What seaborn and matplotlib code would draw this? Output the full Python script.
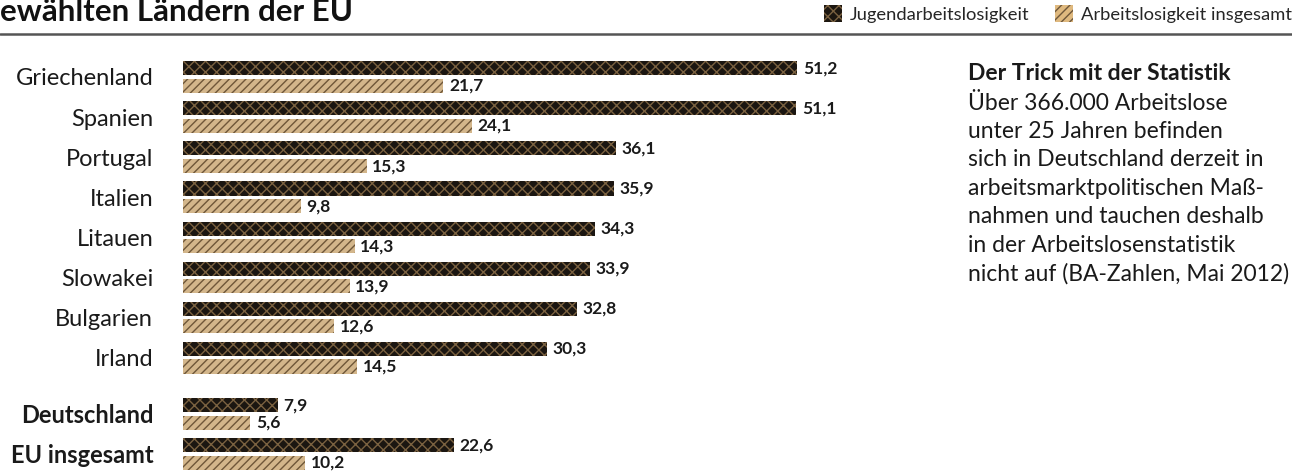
import matplotlib
matplotlib.use("Agg")
import matplotlib.pyplot as plt
from matplotlib.patches import Patch
import seaborn as sns
import pandas as pd

sns.set_theme(style="white")
plt.rcParams["font.family"] = ["Lato", "DejaVu Sans"]
plt.rcParams["hatch.linewidth"] = 1.0

laender = ["Griechenland", "Spanien", "Portugal", "Italien", "Litauen",
           "Slowakei", "Bulgarien", "Irland", "Deutschland", "EU insgesamt"]
jugend = [51.2, 51.1, 36.1, 35.9, 34.3, 33.9, 32.8, 30.3, 7.9, 22.6]
gesamt = [21.7, 24.1, 15.3, 9.8, 14.3, 13.9, 12.6, 14.5, 5.6, 10.2]
serien = ["Jugendarbeitslosigkeit", "Arbeitslosigkeit insgesamt"]

# Row positions: a wider gap separates Deutschland and the EU total from the rest
rows = [i if i < 8 else i + 0.4 for i in range(len(laender))]

df = pd.DataFrame({
    "Land": laender * 2,
    "row": rows * 2,
    "Quote": jugend + gesamt,
    "Serie": [serien[0]] * len(laender) + [serien[1]] * len(laender),
})

W, H = 1292, 474
fig = plt.figure(figsize=(W / 100, H / 100), dpi=100)

ax_left, ax_right = 183, 900
ax_top, ax_bot = 40, 474
ax = fig.add_axes([ax_left / W, 1 - ax_bot / H, (ax_right - ax_left) / W, (ax_bot - ax_top) / H])

# Burlap-like fills: dark bars with tan flecks, tan bars with dark flecks
face = {serien[0]: "#1c1610", serien[1]: "#dfb97f"}
hatchc = {serien[0]: "#7a6140", serien[1]: "#6f5739"}
hatches = {serien[0]: "xxx", serien[1]: "////"}

sns.barplot(data=df, x="Quote", y="row", hue="Serie", hue_order=serien,
            orient="h", native_scale=True, width=0.88, gap=0.2,
            palette=face, legend=False, ax=ax, linewidth=0)

for cont, s in zip(ax.containers, serien):
    for bar in cont:
        bar.set_hatch(hatches[s])
        bar.set_edgecolor(hatchc[s])
        bar.set_linewidth(0)
    labels = [f"{v:.1f}".replace(".", ",") for v in cont.datavalues]
    ax.bar_label(cont, labels=labels, padding=4, fontsize=12.5,
                 fontweight="bold", color="#1a1a1a")

px_per_unit_x = 12.0
ax.set_xlim(0, (ax_right - ax_left) / px_per_unit_x)
px_per_row = 40.1
y0_px = 77
ax.set_ylim((ax_bot - y0_px) / px_per_row, -(y0_px - ax_top) / px_per_row)

ax.set_yticks(rows)
ax.set_yticklabels(laender)
for i, t in enumerate(ax.get_yticklabels()):
    t.set_fontsize(17)
    t.set_color("#1a1a1a")
    if i >= 8:
        t.set_fontweight("bold")
ax.tick_params(axis="y", length=0, pad=21.5)
ax.set_xticks([])
ax.set_xlabel("")
ax.set_ylabel("")
sns.despine(ax=ax, left=True, bottom=True)

# Heading and rule
fig.text(0 / W, 1 - 12 / H, "ewählten Ländern der EU", fontsize=22.5,
         fontweight="bold", color="#111111", va="center", ha="left")
fig.add_artist(plt.Line2D([0, 1], [1 - 34 / H, 1 - 34 / H], color="#555555",
                          linewidth=1.8, transform=fig.transFigure))

# Legend
handles = [Patch(facecolor=face[s], edgecolor=hatchc[s], hatch=hatches[s],
                 linewidth=0, label=s) for s in serien]
fig.legend(handles=handles, loc="center right", bbox_to_anchor=(1.0, 1 - 14 / H),
           ncol=2, frameon=False, fontsize=13.2, handlelength=0.95, handleheight=1.0,
           handletextpad=0.45, columnspacing=1.4, borderaxespad=0, borderpad=0)

# Side note
note_x = 968 / W
fig.text(note_x, 1 - 74 / H, "Der Trick mit der Statistik", fontsize=16.5,
         fontweight="bold", color="#1a1a1a", va="center", ha="left")
note = ["Über 366.000 Arbeitslose", "unter 25 Jahren befinden",
        "sich in Deutschland derzeit in", "arbeitsmarktpolitischen Maß-",
        "nahmen und tauchen deshalb", "in der Arbeitslosenstatistik",
        "nicht auf (BA-Zahlen, Mai 2012)"]
for k, line in enumerate(note):
    fig.text(note_x, 1 - (103 + 28.4 * k) / H, line, fontsize=16.5,
             color="#1a1a1a", va="center", ha="left")

fig.savefig("out.png", dpi=100)
